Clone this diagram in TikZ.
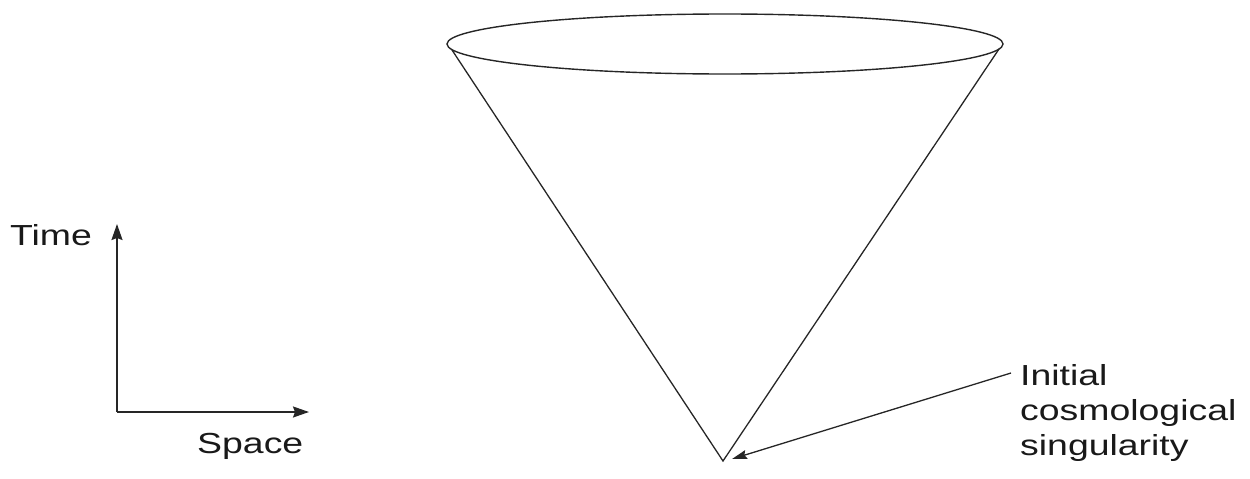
\documentclass[tikz,border=0pt]{standalone}
\usepackage{fontspec}
\setmainfont{Liberation Sans}[FakeStretch=1.29]
\usetikzlibrary{arrows.meta,shapes.geometric}
\begin{document}
\begin{tikzpicture}[x=1pt,y=-1pt,
  ink/.style={draw=black!85},
  axisline/.style={ink,line width=1.7pt,-{Stealth[length=16pt,width=11pt,inset=2pt]}},
  coneline/.style={ink,line width=1.3pt},
  pointer/.style={ink,line width=1.3pt,-{Stealth[length=15pt,width=9pt,inset=2pt]}},
  lbl/.style={font=\fontsize{29}{35}\selectfont,text=black!90,inner sep=0pt}]
\useasboundingbox (0,0) rectangle (1250,479);
% axes
\coordinate (origin) at (117,412);
\coordinate (tup) at (117,224);
\coordinate (sright) at (309,412);
\draw[axisline] (origin) -- (tup);
\draw[axisline] (origin) -- (sright);
\node[lbl,anchor=base west] (time) at (10,245) {Time};
\node[lbl,anchor=base west] (space) at (197,453) {Space};
% cone
\node[ink,line width=1.4pt,ellipse,minimum width=556pt,minimum height=60pt,inner sep=0pt] (rim) at (725,44) {};
\coordinate (apex) at (723,461);
\coordinate (lrim) at (452,50);
\coordinate (rrim) at (999,49);
\draw[coneline] (lrim) -- (apex) -- (rrim);
% label
\node[lbl,anchor=base west,align=left] (sing) at (1020,455) {Initial\\cosmological\\singularity};
\coordinate (ptrstart) at (1011,373);
\draw[pointer] (ptrstart) -- ([xshift=9pt,yshift=2pt]apex);
\end{tikzpicture}
\end{document}
